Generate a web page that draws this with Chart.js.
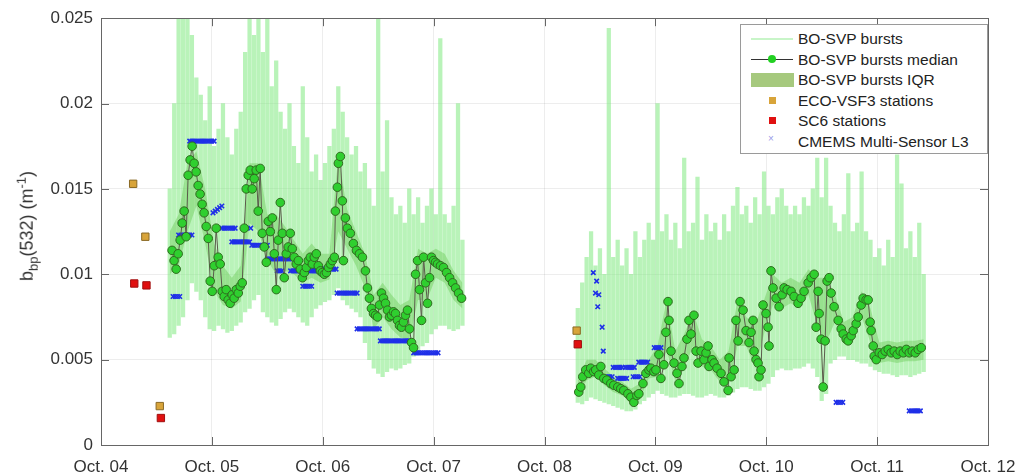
<!DOCTYPE html>
<html>
<head>
<meta charset="utf-8">
<script src="https://cdn.jsdelivr.net/npm/chart.js@4.4.1/dist/chart.umd.min.js"></script>
<style>
  body { margin: 0; background: #fff; font-family: "Liberation Sans", Arial, sans-serif; }
  #wrap { position: relative; width: 1030px; height: 476px; }
  #ytitle {
    position: absolute; left: 27px; top: 226px; white-space: nowrap;
    transform: translate(-50%, -50%) rotate(-90deg);
    font-size: 18px; color: #333;
  }
  #ytitle sub, #ytitle sup { font-size: 13px; }
  #legend {
    position: absolute; left: 740px; top: 24px; width: 246px; height: 128px;
    border: 1px solid #9a9a9a; background: #fff; font-size: 15.5px; color: #222;
  }
  .item { position: absolute; left: 0; height: 20px; width: 100%; }
  .item span.lab { position: absolute; left: 57px; top: 1px; white-space: nowrap; }
  .sw { position: absolute; }
</style>
</head>
<body>
<div id="wrap">
  <canvas id="chart" width="1030" height="476"></canvas>
  <div id="ytitle">b<sub>bp</sub>(532) (m<sup>-1</sup>)</div>
  <div id="legend"></div>
</div>
<script>
// --- Data ---
const xTickLabels = ['Oct. 04', 'Oct. 05', 'Oct. 06', 'Oct. 07', 'Oct. 08', 'Oct. 09', 'Oct. 10', 'Oct. 11', 'Oct. 12'];
const yTickLabels = ['0', '0.005', '0.01', '0.015', '0.02', '0.025'];

// median of bursts, time in days of October (null = gap in record)
const medianT = [4.641,4.659,4.678,4.696,4.714,4.732,4.750,4.768,4.786,4.804,
  4.822,4.840,4.858,4.876,4.894,4.912,4.930,4.949,4.967,4.985,
  5.003,5.021,5.039,5.057,5.075,5.093,5.111,5.129,5.147,5.165,
  5.183,5.201,5.220,5.238,5.256,5.274,5.292,5.310,5.328,5.346,
  5.364,5.382,5.400,5.418,5.436,5.454,5.472,5.491,5.509,5.527,
  5.545,5.563,5.581,5.599,5.617,5.635,5.653,5.671,5.689,5.707,
  5.725,5.743,5.761,5.780,5.798,5.816,5.834,5.852,5.870,5.888,
  5.906,5.924,5.942,5.960,5.978,5.996,6.014,6.033,6.051,6.069,
  6.087,6.105,6.114,6.132,6.141,6.159,6.177,6.186,6.204,6.222,
  6.249,6.276,6.304,6.331,6.358,6.385,6.403,6.421,6.439,6.458,
  6.476,6.494,6.512,6.530,6.548,6.566,6.584,6.602,6.620,6.638,
  6.656,6.674,6.692,6.710,6.728,6.746,6.764,6.782,6.801,6.819,
  6.837,6.855,6.873,6.891,6.909,6.927,6.945,6.963,6.981,6.999,
  7.017,7.035,7.062,7.089,7.117,7.144,7.171,7.198,7.225,7.252,
  7.8,
  8.309,8.327,8.345,8.372,8.399,8.417,8.444,8.462,8.490,8.508,
  8.535,8.562,8.598,8.625,8.661,8.688,8.715,8.752,8.779,8.806,
  8.833,8.851,8.888,8.915,8.942,8.960,8.987,9.005,9.032,9.050,
  9.077,9.095,9.114,9.123,9.141,9.168,9.195,9.213,9.240,9.258,
  9.285,9.303,9.321,9.348,9.367,9.385,9.412,9.439,9.457,9.475,
  9.484,9.511,9.529,9.556,9.592,9.619,9.656,9.665,9.683,9.710,
  9.727,9.746,9.764,9.791,9.818,9.845,9.863,9.881,9.890,9.908,
  9.926,9.935,9.953,9.971,9.998,10.016,10.025,10.043,10.061,10.089,
  10.116,10.143,10.161,10.188,10.224,10.251,10.287,10.314,10.341,10.378,
  10.405,10.432,10.450,10.468,10.477,10.495,10.513,10.531,10.549,10.567,
  10.585,10.612,10.649,10.676,10.694,10.721,10.739,10.766,10.784,10.811,
  10.829,10.856,10.874,10.901,10.919,10.937,10.946,10.965,10.974,10.992,
  11.019,11.046,11.073,11.100,11.127,11.154,11.181,11.208,11.236,11.263,
  11.290,11.317,11.344,11.371,11.398];
const medianV = [0.0114,0.0108,0.0103,0.0112,0.0120,0.0130,0.0137,0.0122,0.0158,0.0167,
  0.0175,0.0165,0.0160,0.0152,0.0147,0.0141,0.0136,0.0128,0.0121,0.0096,
  0.0090,0.0105,0.0127,0.0110,0.0106,0.0090,0.0087,0.0091,0.0085,0.0083,
  0.0088,0.0086,0.0091,0.0089,0.0093,0.0095,0.0127,0.0150,0.0158,0.0161,
  0.0150,0.0156,0.0161,0.0137,0.0162,0.0124,0.0116,0.0107,0.0131,0.0125,
  0.0133,0.0112,0.0091,0.0120,0.0142,0.0124,0.0098,0.0112,0.0116,0.0124,
  0.0115,0.0110,0.0106,0.0108,0.0103,0.0098,0.0101,0.0104,0.0108,0.0110,
  0.0106,0.0110,0.0112,0.0105,0.0102,0.0101,0.0100,0.0101,0.0104,0.0106,
  0.0108,0.0110,0.0137,0.0151,0.0165,0.0169,0.0143,0.0108,0.0133,0.0127,
  0.0124,0.0118,0.0114,0.0112,0.0110,0.0102,0.0092,0.0086,0.0080,0.0077,
  0.0076,0.0075,0.0082,0.0089,0.0086,0.0083,0.0079,0.0075,0.0076,0.0078,
  0.0077,0.0073,0.0070,0.0069,0.0072,0.0076,0.0079,0.0068,0.0060,0.0057,
  0.0100,0.0108,0.0091,0.0073,0.0110,0.0095,0.0083,0.0098,0.0110,0.0108,
  0.0107,0.0106,0.0105,0.0104,0.0101,0.0098,0.0095,0.0092,0.0089,0.0086,
  null,
  0.0031,0.0034,0.0040,0.0044,0.0042,0.0045,0.0043,0.0044,0.0041,0.0046,
  0.0039,0.0038,0.0036,0.0035,0.0034,0.0033,0.0032,0.0030,0.0028,0.0025,
  0.0029,0.0030,0.0036,0.0042,0.0044,0.0045,0.0043,0.0044,0.0053,0.0039,
  0.0047,0.0066,0.0084,0.0073,0.0055,0.0048,0.0042,0.0036,0.0046,0.0051,
  0.0062,0.0073,0.0065,0.0076,0.0055,0.0048,0.0055,0.0050,0.0054,0.0058,
  0.0046,0.0050,0.0048,0.0045,0.0042,0.0037,0.0032,0.0051,0.0040,0.0044,
  0.0073,0.0061,0.0084,0.0079,0.0067,0.0060,0.0066,0.0073,0.0055,0.0050,
  0.0048,0.0040,0.0044,0.0082,0.0077,0.0069,0.0058,0.0102,0.0092,0.0086,
  0.0081,0.0088,0.0092,0.0091,0.0090,0.0087,0.0083,0.0086,0.0090,0.0095,
  0.0098,0.0100,0.0069,0.0090,0.0077,0.0062,0.0034,0.0061,0.0096,0.0098,
  0.0089,0.0081,0.0073,0.0068,0.0065,0.0062,0.0061,0.0064,0.0067,0.0071,
  0.0075,0.0082,0.0086,0.0085,0.0085,0.0072,0.0067,0.0058,0.0052,0.0050,
  0.0054,0.0053,0.0055,0.0056,0.0054,0.0055,0.0053,0.0055,0.0054,0.0056,
  0.0054,0.0055,0.0054,0.0056,0.0057];

// interquartile range of bursts
const iqrT = [4.62,4.70,4.78,4.86,4.94,5.02,5.10,5.18,5.26,5.34,5.42,5.50,5.58,5.66,5.74,5.82,5.90,5.98,
  6.06,6.14,6.22,6.30,6.38,6.46,6.54,6.62,6.70,6.78,6.86,6.94,7.02,7.10,7.18,7.26,
  7.8,
  8.30,8.38,8.46,8.54,8.62,8.70,8.78,8.86,8.94,9.02,9.10,9.18,9.26,9.34,9.42,9.50,9.58,9.66,
  9.74,9.82,9.90,9.98,10.06,10.14,10.22,10.30,10.38,10.46,10.54,10.62,10.70,10.78,10.86,10.94,
  11.02,11.10,11.18,11.26,11.34,11.42];
const iqrLow = [0.0100,0.0105,0.0125,0.0140,0.0118,0.0090,0.0082,0.0080,0.0084,0.0130,0.0125,0.0108,0.0100,0.0102,0.0100,0.0095,0.0098,0.0095,
  0.0097,0.0125,0.0115,0.0105,0.0092,0.0068,0.0075,0.0068,0.0063,0.0062,0.0085,0.0085,0.0098,0.0095,0.0085,0.0080,
  null,
  0.0028,0.0038,0.0040,0.0035,0.0031,0.0029,0.0025,0.0027,0.0039,0.0040,0.0055,0.0038,0.0045,0.0058,0.0046,0.0044,0.0037,0.0035,
  0.0058,0.0058,0.0045,0.0065,0.0082,0.0080,0.0083,0.0080,0.0088,0.0070,0.0060,0.0072,0.0060,0.0060,0.0075,0.0060,
  0.0048,0.0049,0.0048,0.0049,0.0049,0.0050];
const iqrHigh = [0.0125,0.0135,0.0165,0.0172,0.0150,0.0118,0.0105,0.0098,0.0105,0.0165,0.0165,0.0135,0.0135,0.0128,0.0120,0.0112,0.0118,0.0112,
  0.0112,0.0170,0.0138,0.0125,0.0112,0.0088,0.0095,0.0088,0.0082,0.0085,0.0115,0.0112,0.0115,0.0112,0.0102,0.0095,
  null,
  0.0038,0.0050,0.0050,0.0045,0.0040,0.0037,0.0033,0.0036,0.0050,0.0058,0.0085,0.0055,0.0065,0.0078,0.0062,0.0058,0.0050,0.0055,
  0.0085,0.0075,0.0070,0.0085,0.0100,0.0095,0.0098,0.0095,0.0103,0.0098,0.0098,0.0088,0.0072,0.0075,0.0090,0.0080,
  0.0060,0.0061,0.0060,0.0061,0.0061,0.0062];

// individual burst spread (min / max per sampling slot)
const burstT = [4.62,4.66,4.70,4.74,4.78,4.82,4.86,4.90,4.94,4.98,5.02,5.06,5.10,5.14,5.18,5.22,5.26,5.30,5.34,5.38,
  5.42,5.46,5.50,5.54,5.58,5.62,5.66,5.70,5.74,5.78,5.82,5.86,5.90,5.94,5.98,6.02,6.06,6.10,6.14,6.18,
  6.22,6.26,6.30,6.34,6.38,6.42,6.46,6.50,6.54,6.58,6.62,6.66,6.70,6.74,6.78,6.82,6.86,6.90,6.94,6.98,
  7.02,7.06,7.10,7.14,7.18,7.22,7.26,
  8.30,8.34,8.38,8.42,8.46,8.50,8.54,8.58,8.62,8.66,8.70,8.74,8.78,8.82,8.86,8.90,8.94,8.98,9.02,9.06,
  9.10,9.14,9.18,9.22,9.26,9.30,9.34,9.38,9.42,9.46,9.50,9.54,9.58,9.62,9.66,9.70,9.74,9.78,9.82,9.86,
  9.90,9.94,9.98,10.02,10.06,10.10,10.14,10.18,10.22,10.26,10.30,10.34,10.38,10.42,10.46,10.50,10.54,10.58,10.62,10.66,
  10.70,10.74,10.78,10.82,10.86,10.90,10.94,10.98,11.02,11.06,11.10,11.14,11.18,11.22,11.26,11.30,11.34,11.38,11.42];
const burstLow = [0.0063,0.0065,0.0070,0.0075,0.0085,0.0095,0.0090,0.0085,0.0075,0.0068,0.0067,0.0070,0.0068,0.0066,0.0067,0.0070,0.0072,0.0078,0.0080,0.0085,
  0.0088,0.0078,0.0075,0.0072,0.0070,0.0074,0.0078,0.0080,0.0078,0.0075,0.0072,0.0070,0.0075,0.0080,0.0082,0.0084,0.0085,0.0088,0.0092,0.0085,
  0.0082,0.0080,0.0078,0.0075,0.0060,0.0050,0.0045,0.0042,0.0040,0.0043,0.0045,0.0044,0.0045,0.0047,0.0048,0.0052,0.0055,0.0058,0.0060,0.0065,
  0.0068,0.0070,0.0070,0.0068,0.0067,0.0068,0.0070,
  0.0025,0.0024,0.0026,0.0028,0.0027,0.0026,0.0025,0.0024,0.0023,0.0022,0.0021,0.0020,0.0020,0.0021,0.0024,0.0026,0.0028,0.0030,0.0032,0.0030,
  0.0029,0.0028,0.0028,0.0029,0.0030,0.0030,0.0029,0.0028,0.0028,0.0029,0.0030,0.0029,0.0028,0.0028,0.0029,0.0031,0.0033,0.0034,0.0034,0.0033,
  0.0032,0.0032,0.0034,0.0036,0.0040,0.0044,0.0045,0.0044,0.0044,0.0045,0.0045,0.0046,0.0048,0.0045,0.0040,0.0026,0.0030,0.0048,0.0050,0.0052,
  0.0052,0.0050,0.0050,0.0049,0.0048,0.0048,0.0046,0.0044,0.0043,0.0042,0.0042,0.0041,0.0040,0.0041,0.0041,0.0040,0.0041,0.0042,0.0043];
const burstHigh = [0.0150,0.0200,0.0255,0.0250,0.0255,0.0240,0.0215,0.0205,0.0190,0.0210,0.0175,0.0185,0.0200,0.0180,0.0170,0.0185,0.0195,0.0230,0.0255,0.0240,
  0.0255,0.0230,0.0255,0.0210,0.0225,0.0195,0.0185,0.0200,0.0175,0.0165,0.0210,0.0180,0.0160,0.0170,0.0155,0.0165,0.0175,0.0185,0.0210,0.0195,
  0.0180,0.0170,0.0175,0.0160,0.0165,0.0150,0.0140,0.0255,0.0160,0.0190,0.0145,0.0135,0.0140,0.0130,0.0150,0.0135,0.0145,0.0130,0.0140,0.0150,
  0.0135,0.0238,0.0135,0.0130,0.0140,0.0200,0.0120,
  0.0080,0.0095,0.0110,0.0125,0.0105,0.0115,0.0100,0.0244,0.0110,0.0120,0.0105,0.0115,0.0100,0.0125,0.0110,0.0120,0.0130,0.0120,0.0200,0.0125,
  0.0135,0.0120,0.0130,0.0115,0.0168,0.0125,0.0130,0.0157,0.0120,0.0135,0.0125,0.0130,0.0120,0.0135,0.0125,0.0140,0.0151,0.0135,0.0140,0.0130,
  0.0145,0.0135,0.0160,0.0140,0.0135,0.0145,0.0150,0.0140,0.0135,0.0140,0.0135,0.0145,0.0140,0.0150,0.0168,0.0145,0.0168,0.0140,0.0130,0.0125,
  0.0135,0.0159,0.0125,0.0130,0.0160,0.0125,0.0120,0.0110,0.0115,0.0105,0.0120,0.0110,0.0170,0.0153,0.0115,0.0125,0.0110,0.0130,0.0100];

// discrete station samples
const ecoT = [4.29, 4.40, 4.53, 8.29];
const ecoV = [0.0153, 0.0122, 0.00228, 0.0067];
const sc6T = [4.30, 4.41, 4.54, 8.30];
const sc6V = [0.00946, 0.00935, 0.00158, 0.0059];

// satellite matchups
const cmemsT = [4.65,4.67,4.69,4.71,
  4.70,4.72,4.74,4.76,4.78,4.80,4.82,
  4.80,4.82,4.84,4.86,4.88,4.90,4.92,4.94,4.96,4.98,5.00,5.02,
  5.01,5.03,5.05,5.07,5.09,
  5.09,5.11,5.13,5.15,5.17,5.19,5.21,
  5.18,5.20,5.22,5.24,5.26,5.28,5.30,5.32,5.34,
  5.35,
  5.36,5.38,5.40,5.42,5.44,5.46,5.48,5.50,
  5.50,5.52,5.54,5.56,5.58,5.60,5.62,5.64,5.66,5.68,5.70,5.72,
  5.59,5.61,5.63,
  5.71,5.73,5.75,5.77,5.79,5.81,5.83,5.85,5.87,5.89,5.91,5.93,5.95,5.97,
  5.82,5.84,5.86,5.88,5.90,
  5.92,5.94,5.96,5.98,6.00,6.02,6.04,6.06,6.08,6.10,6.12,
  6.13,6.15,6.17,6.19,6.21,6.23,6.25,6.27,6.29,6.31,
  6.31,6.33,6.35,6.37,6.39,6.41,6.43,6.45,6.47,6.49,6.51,
  6.52,6.54,6.56,6.58,6.60,6.62,6.64,6.66,6.68,6.70,6.72,6.74,6.76,6.78,
  6.82,6.84,6.86,6.88,6.90,6.92,6.94,6.96,6.98,7.00,7.02,7.04,
  8.44,8.47,8.46,8.49,8.48,8.52,8.53,
  8.55,8.57,8.59,8.61,
  8.62,8.64,8.66,8.68,8.70,
  8.66,8.68,8.70,8.72,8.74,
  8.73,8.75,8.77,8.79,8.81,
  8.80,8.82,8.84,8.86,
  8.85,8.87,8.89,8.91,8.93,
  8.99,9.01,9.03,9.05,
  10.63,10.65,10.67,10.69,
  11.29,11.31,11.33,11.35,11.37,11.39];
const cmemsV = [0.0087,0.0087,0.0087,0.0087,
  0.0123,0.0123,0.0123,0.0123,0.0123,0.0123,0.0123,
  0.0178,0.0178,0.0178,0.0178,0.0178,0.0178,0.0178,0.0178,0.0178,0.0178,0.0178,0.0178,
  0.0136,0.0137,0.0138,0.0139,0.0140,
  0.0127,0.0127,0.0127,0.0127,0.0127,0.0127,0.0127,
  0.0119,0.0119,0.0119,0.0119,0.0119,0.0119,0.0119,0.0119,0.0119,
  0.0127,
  0.0117,0.0117,0.0117,0.0117,0.0117,0.0117,0.0117,0.0117,
  0.0109,0.0109,0.0109,0.0109,0.0109,0.0109,0.0109,0.0109,0.0109,0.0109,0.0109,0.0109,
  0.0102,0.0102,0.0102,
  0.0102,0.0102,0.0102,0.0102,0.0102,0.0102,0.0102,0.0102,0.0102,0.0102,0.0102,0.0102,0.0102,0.0102,
  0.0093,0.0093,0.0093,0.0093,0.0093,
  0.0103,0.0103,0.0103,0.0103,0.0103,0.0103,0.0103,0.0103,0.0103,0.0103,0.0103,
  0.0089,0.0089,0.0089,0.0089,0.0089,0.0089,0.0089,0.0089,0.0089,0.0089,
  0.0068,0.0068,0.0068,0.0068,0.0068,0.0068,0.0068,0.0068,0.0068,0.0068,0.0068,
  0.0061,0.0061,0.0061,0.0061,0.0061,0.0061,0.0061,0.0061,0.0061,0.0061,0.0061,0.0061,0.0061,0.0061,
  0.0054,0.0054,0.0054,0.0054,0.0054,0.0054,0.0054,0.0054,0.0054,0.0054,0.0054,0.0054,
  0.0101,0.0096,0.0089,0.0088,0.0081,0.0069,0.0055,
  0.0040,0.0040,0.0040,0.0040,
  0.00455,0.00455,0.00455,0.00455,0.00455,
  0.0039,0.0039,0.0039,0.0039,0.0039,
  0.00455,0.00455,0.00455,0.00455,0.00455,
  0.0040,0.0040,0.0040,0.0040,
  0.00485,0.00485,0.00485,0.00485,0.00485,
  0.0057,0.0057,0.0057,0.0057,
  0.0025,0.0025,0.0025,0.0025,
  0.0020,0.0020,0.0020,0.0020,0.0020,0.0020];

// --- Helpers ---
const pts = (xs, ys) => xs.map((x, i) => ({ x, y: ys[i] }));
const bars = (xs, lo, hi) => xs.map((x, i) => ({ x, y: [lo[i], hi[i]] }));

// --- Legend (HTML) ---
const legendItems = [
  { label: 'BO-SVP bursts', sw: '<div class="sw" style="left:10px;top:9px;width:42px;height:2px;background:#c8f5c8"></div>' },
  { label: 'BO-SVP bursts median', sw: '<div class="sw" style="left:10px;top:9px;width:42px;height:1px;background:#333"></div><div class="sw" style="left:27px;top:5px;width:8px;height:8px;border-radius:50%;background:#22d022"></div>' },
  { label: 'BO-SVP bursts IQR', sw: '<div class="sw" style="left:10px;top:3px;width:43px;height:14px;background:#a6c97e"></div>' },
  { label: 'ECO-VSF3 stations', sw: '<div class="sw" style="left:28px;top:6px;width:7px;height:7px;background:#d8a43a"></div>' },
  { label: 'SC6 stations', sw: '<div class="sw" style="left:28px;top:6px;width:7px;height:7px;background:#e01010"></div>' },
  { label: 'CMEMS Multi-Sensor L3', sw: '<div class="sw" style="left:27px;top:1px;font-size:10px;color:#9a9ae8">×</div>' }
];
const legendEl = document.getElementById('legend');
legendItems.forEach((it, i) => {
  const row = document.createElement('div');
  row.className = 'item';
  row.style.top = (4 + i * 20.5) + 'px';
  row.innerHTML = it.sw + '<span class="lab">' + it.label + '</span>';
  legendEl.appendChild(row);
});

// --- Axis box with inward ticks, drawn over data ---
const axisBox = {
  id: 'axisBox',
  afterDatasetsDraw(chart) {
    const { ctx, chartArea: a, scales } = chart;
    const len = 8;
    ctx.save();
    ctx.strokeStyle = '#666';
    ctx.lineWidth = 1;
    ctx.beginPath();
    scales.x.ticks.forEach(t => {
      const px = Math.round(scales.x.getPixelForValue(t.value)) + 0.5;
      ctx.moveTo(px, a.bottom); ctx.lineTo(px, a.bottom - len);
      ctx.moveTo(px, a.top); ctx.lineTo(px, a.top + len);
    });
    scales.y.ticks.forEach(t => {
      const py = Math.round(scales.y.getPixelForValue(t.value)) + 0.5;
      ctx.moveTo(a.left, py); ctx.lineTo(a.left + len, py);
      ctx.moveTo(a.right, py); ctx.lineTo(a.right - len, py);
    });
    ctx.stroke();
    ctx.strokeRect(Math.round(a.left) + 0.5, Math.round(a.top) + 0.5,
      Math.round(a.right - a.left), Math.round(a.bottom - a.top));
    ctx.restore();
  }
};

// --- Chart ---
const ctx = document.getElementById('chart').getContext('2d');
new Chart(ctx, {
  type: 'line',
  data: {
    datasets: [
      {
        label: 'ECO-VSF3 stations', type: 'scatter', data: pts(ecoT, ecoV), order: 0,
        pointStyle: 'rect', pointRadius: 5.2, backgroundColor: '#d8a43a', borderColor: '#8a6a26', borderWidth: 1
      },
      {
        label: 'SC6 stations', type: 'scatter', data: pts(sc6T, sc6V), order: 0,
        pointStyle: 'rect', pointRadius: 5.2, backgroundColor: '#e01010', borderColor: '#a01010', borderWidth: 1
      },
      {
        label: 'BO-SVP bursts median', type: 'line', data: pts(medianT, medianV), order: 1,
        borderColor: '#5a5a4a', borderWidth: 1, spanGaps: false,
        pointRadius: 4.3, pointBackgroundColor: '#2fcf2f', pointBorderColor: '#2f6a1f', pointBorderWidth: 1
      },
      {
        label: 'CMEMS Multi-Sensor L3', type: 'scatter', data: pts(cmemsT, cmemsV), order: 2,
        pointStyle: 'crossRot', pointRadius: 3.2, borderColor: '#1f2fe8', borderWidth: 1.6
      },
      {
        label: 'IQR low', type: 'line', data: pts(iqrT, iqrLow), order: 3,
        borderWidth: 0, pointRadius: 0, spanGaps: false, fill: false
      },
      {
        label: 'BO-SVP bursts IQR', type: 'line', data: pts(iqrT, iqrHigh), order: 3,
        borderWidth: 0, pointRadius: 0, spanGaps: false,
        fill: '-1', backgroundColor: 'rgba(110,205,90,0.45)'
      },
      {
        label: 'BO-SVP bursts', type: 'bar', data: bars(burstT, burstLow, burstHigh), order: 4,
        backgroundColor: 'rgba(120,232,120,0.52)', barThickness: 3.6, grouped: false, borderWidth: 0
      }
    ]
  },
  options: {
    responsive: false,
    animation: false,
    layout: { padding: { top: 17, right: 42, left: 0, bottom: 0 } },
    plugins: { legend: { display: false }, tooltip: { enabled: false } },
    scales: {
      x: {
        type: 'linear', min: 4, max: 12, offset: false,
        afterFit: s => { s.height = 31; },
        grid: { color: 'rgba(0,0,0,0.07)', drawTicks: false, offset: false },
        border: { display: false },
        ticks: {
          stepSize: 1, padding: 12, color: '#333', maxRotation: 0,
          font: { family: 'Liberation Sans', size: 17 },
          callback: v => xTickLabels[Math.round(v - 4)]
        }
      },
      y: {
        min: 0, max: 0.025,
        afterFit: s => { s.width = 101; },
        grid: { color: 'rgba(0,0,0,0.07)', drawTicks: false },
        border: { display: false },
        ticks: {
          stepSize: 0.005, padding: 8, color: '#333',
          font: { family: 'Liberation Sans', size: 17 },
          callback: v => yTickLabels[Math.round(v / 0.005)]
        }
      }
    }
  },
  plugins: [axisBox]
});
</script>
</body>
</html>
